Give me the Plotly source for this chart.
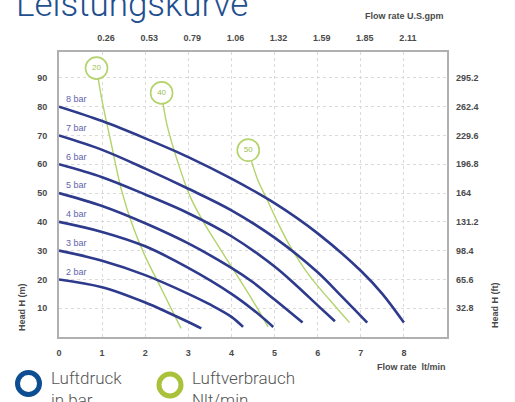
import plotly.graph_objects as go

# ---------------- data ----------------
bars = [2, 3, 4, 5, 6, 7, 8]
bar_flow = {
    2: [0, 1, 2, 2.5, 3, 3.3],
    3: [0, 1, 2, 3, 3.5, 4, 4.27],
    4: [0, 1, 2, 3, 4, 4.5, 4.97],
    5: [0, 1, 2, 3, 4, 4.5, 5, 5.65],
    6: [0, 1, 2, 3, 4, 5, 5.5, 6, 6.4],
    7: [0, 1, 2, 3, 4, 5, 6, 6.5, 7.15],
    8: [0, 1, 2, 3, 4, 5, 6, 7, 7.5, 8],
}
bar_head = {
    2: [20, 17.3, 12, 8.7, 5.2, 3],
    3: [30, 26.5, 21.5, 15, 11.3, 7, 3.5],
    4: [40, 36.5, 31.5, 24, 15, 9.5, 3.5],
    5: [50, 45.5, 39.5, 32.5, 24, 19, 13, 5],
    6: [60, 55.5, 49.5, 43, 35, 24.5, 18, 11, 5.5],
    7: [70, 65, 58.5, 51.5, 44, 34.5, 22.5, 15, 5],
    8: [80, 75, 69, 62.5, 55, 46.5, 36, 23, 15, 5],
}

air_labels = ["20", "40", "50"]
air_label_flow = [0.87, 2.38, 4.39]
air_label_head = [93.4, 84.8, 64.9]
air_flow = {
    "20": [0.87, 1.0, 1.2, 1.45, 1.7, 2.0, 2.4, 2.83],
    "40": [2.38, 2.5, 2.75, 3.05, 3.35, 3.7, 4.08, 4.5, 4.85],
    "50": [4.39, 4.6, 4.85, 5.1, 5.4, 5.8, 6.3, 6.74],
}
air_head = {
    "20": [93.4, 82, 68, 51, 39, 28, 16, 3],
    "40": [84.8, 74, 61, 48.5, 40, 31.5, 22.5, 12.5, 3.5],
    "50": [64.9, 55, 47, 39, 30.5, 21.5, 12.5, 5],
}

x_ticks = [0, 1, 2, 3, 4, 5, 6, 7, 8]
gpm_ticks = [1, 2, 3, 4, 5, 6, 7, 8]
gpm_labels = ["0.26", "0.53", "0.79", "1.06", "1.32", "1.59", "1.85", "2.11"]
h_ticks = [10, 20, 30, 40, 50, 60, 70, 80, 90]
ft_labels = ["32.8", "65.6", "98.4", "131.2", "164", "196.8", "229.6", "262.4", "295.2"]

BLUE = "#2e3a8c"
GREEN = "#b3d36b"
TICKFONT = dict(family="Liberation Sans", size=9, color="#4a4a4a", weight="bold")

L, R, T, B = 59, 68, 52, 65
PW, PH = 515 - L - R, 402 - T - B


def px_x(px):
    return (px - L) / PW


def px_y(py):
    return 1 - (py - T) / PH


fig = go.Figure()

for k in air_labels:
    fig.add_trace(go.Scatter(x=air_flow[k], y=air_head[k], mode="lines",
                             line=dict(color=GREEN, width=1.4, shape="spline"),
                             hoverinfo="skip", showlegend=False))

for b in bars:
    fig.add_trace(go.Scatter(x=bar_flow[b], y=bar_head[b], mode="lines",
                             line=dict(color=BLUE, width=2.6, shape="spline"),
                             showlegend=False))

fig.add_trace(go.Scatter(x=air_label_flow, y=air_label_head, mode="markers+text",
                         text=air_labels, textposition="middle center",
                         textfont=dict(family="Liberation Sans", size=8, color="#9cbf4e"),
                         marker=dict(size=22, color="white", line=dict(color=GREEN, width=1.6)),
                         showlegend=False))

# invisible trace for secondary axes
fig.add_trace(go.Scatter(x=[0], y=[0], xaxis="x2", yaxis="y2", mode="markers",
                         marker=dict(opacity=0), showlegend=False, hoverinfo="skip"))

for b in bars:
    fig.add_annotation(x=0.12, y=b * 10 + 2.7, text=f"{b} bar", showarrow=False,
                       xanchor="left", yanchor="middle",
                       font=dict(family="Liberation Sans", size=9, color="#6064ab"))

fig.update_layout(
    width=515, height=402,
    margin=dict(l=L, r=R, t=T, b=B, autoexpand=False),
    paper_bgcolor="white", plot_bgcolor="white",
    xaxis=dict(range=[0, 9], tickvals=x_ticks, showgrid=True, gridcolor="#dadada",
               griddash="dot", gridwidth=1, zeroline=False, showline=True,
               linecolor="#b0b0b0", linewidth=2, mirror=True, ticks="",
               tickfont=TICKFONT, ticklabelstandoff=6, automargin=False),
    yaxis=dict(range=[0, 99], tickvals=h_ticks, showgrid=True, gridcolor="#dadada",
               griddash="dot", gridwidth=1, zeroline=False, showline=True,
               linecolor="#b0b0b0", linewidth=2, mirror=True, ticks="",
               tickfont=TICKFONT, ticklabelstandoff=8, automargin=False),
    xaxis2=dict(range=[0, 9], overlaying="x", side="top", tickvals=gpm_ticks,
                ticktext=gpm_labels, showgrid=False, zeroline=False, showline=False,
                ticks="", tickfont=TICKFONT, ticklabelstandoff=8, ticklabelshift=4,
                automargin=False),
    yaxis2=dict(range=[0, 99], overlaying="y", side="right", tickvals=h_ticks,
                ticktext=ft_labels, showgrid=False, zeroline=False, showline=False,
                ticks="", tickfont=TICKFONT, ticklabelstandoff=8, automargin=False),
)

bold9 = dict(family="Liberation Sans", size=9, color="#4a4a4a", weight="bold")
# axis titles
fig.add_annotation(xref="paper", yref="paper", x=px_x(446), y=px_y(16), text="Flow rate U.S.gpm",
                   showarrow=False, xanchor="right", yanchor="middle", font=bold9)
fig.add_annotation(xref="paper", yref="paper", x=px_x(448), y=px_y(367), text="Flow rate  lt/min",
                   showarrow=False, xanchor="right", yanchor="middle", font=bold9)
fig.add_annotation(xref="paper", yref="paper", x=px_x(22), y=px_y(307), text="Head H (m)",
                   showarrow=False, textangle=-90, xanchor="center", yanchor="middle", font=bold9)
fig.add_annotation(xref="paper", yref="paper", x=px_x(495), y=px_y(305), text="Head H (ft)",
                   showarrow=False, textangle=-90, xanchor="center", yanchor="middle", font=bold9)

# title (partially cut at top)
fig.add_annotation(xref="paper", yref="paper", x=px_x(14), y=px_y(5), text="Leistungskurve",
                   showarrow=False, xanchor="left", yanchor="middle",
                   font=dict(family="Roboto", size=35, color="#1f4f8f", weight=300))

# legend rings and texts
fig.add_shape(type="circle", xref="paper", yref="paper", xsizemode="pixel", ysizemode="pixel",
              xanchor=px_x(28.5), yanchor=px_y(383.5),
              x0=-11, x1=11, y0=-11, y1=11, line=dict(color="#0d4d91", width=5))
fig.add_shape(type="circle", xref="paper", yref="paper", xsizemode="pixel", ysizemode="pixel",
              xanchor=px_x(170), yanchor=px_y(385),
              x0=-11, x1=11, y0=-11, y1=11, line=dict(color="#a9c23a", width=5))
fig.add_annotation(xref="paper", yref="paper", x=px_x(49), y=px_y(366),
                   text="Luftdruck<br>in bar", showarrow=False, xanchor="left", yanchor="top",
                   align="left", font=dict(family="Roboto", size=17, color="#555555", weight=300))
fig.add_annotation(xref="paper", yref="paper", x=px_x(190), y=px_y(366),
                   text="Luftverbrauch<br>Nlt/min", showarrow=False, xanchor="left", yanchor="top",
                   align="left", font=dict(family="Roboto", size=17, color="#555555", weight=300))

fig.write_html("out.html", config={"displayModeBar": False},
               post_script="document.body.style.margin='0';document.body.style.overflow='hidden';")
